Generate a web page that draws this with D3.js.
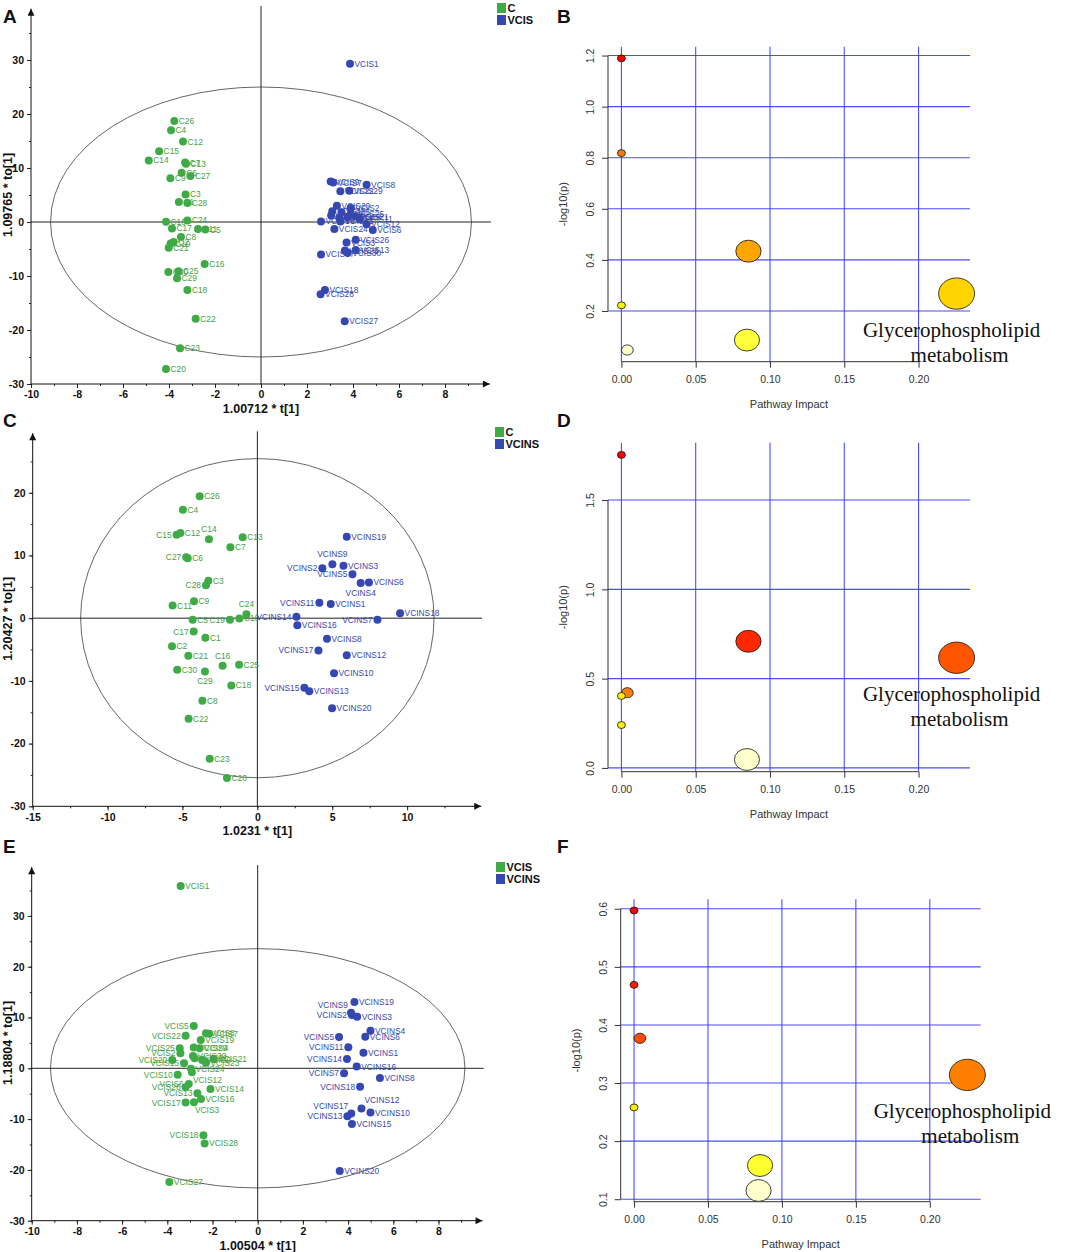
<!DOCTYPE html>
<html lang="en">
<head>
<meta charset="utf-8">
<script src="https://d3js.org/d3.v7.min.js"></script>
<title>OPLS-DA scores and pathway impact</title>
<style>
  body { margin: 0; background: #fff; }
  svg { display: block; }
</style>
</head>
<body>
<script>

// ---------- data ----------
// score plots: [sample, t[1], to[1], label side]
var scoresA_C = [
  ["C26",-3.77,18.7],["C4",-3.91,17.0],["C12",-3.39,14.9],["C15",-4.43,13.1],["C14",-4.88,11.4],
  ["C7",-3.30,11.0],["C13",-3.26,10.8],["C6",-3.45,9.1],["C27",-3.07,8.5],["C9",-3.94,8.1],
  ["C3",-3.28,5.1],["C1",-3.57,3.7],["C28",-3.20,3.5],["C10",-4.13,0.05],["C24",-3.20,0.3],
  ["C17",-3.87,-1.2],["C11",-2.74,-1.3],["C5",-2.42,-1.4],["C8",-3.48,-2.8],["C2",-3.80,-3.7],
  ["C19",-3.93,-4.0],["C21",-4.01,-4.75],["C16",-2.45,-7.8],["C30",-4.03,-9.25],["C25",-3.59,-9.1],
  ["C29",-3.65,-10.4],["C18",-3.20,-12.6],["C22",-2.84,-17.9],["C23",-3.52,-23.4],["C20",-4.13,-27.2]
];
var scoresA_VCIS = [
  ["VCIS1",3.87,29.3],["VCIS9",3.03,7.5],["VCIS7",3.14,7.3],["VCIS8",4.59,6.9],["VCIS22",3.45,5.7],
  ["VCIS29",3.84,5.8],["VCIS20",3.30,3.0],["VCIS2",3.90,2.6],["VCIS4",3.10,2.0],["VCIS5",3.50,1.8],
  ["VCIS25",3.90,1.5],["VCIS10",3.05,1.2],["VCIS14",3.40,0.8],["VCIS19",3.75,0.9],["VCIS21",4.10,1.0],
  ["VCIS11",4.30,0.5],["VCIS16",2.61,0.1],["VCIS15",3.45,0.1],["VCIS12",4.59,-0.4],["VCIS24",3.19,-1.3],
  ["VCIS6",4.86,-1.5],["VCIS26",4.12,-3.3],["VCIS3",3.72,-3.8],["VCIS13",4.12,-5.2],["VCIS23",3.65,-5.3],
  ["VCIS30",3.77,-5.7],["VCIS17",2.61,-6.0],["VCIS18",2.78,-12.6],["VCIS28",2.59,-13.4],["VCIS27",3.64,-18.4]
];

var scoresC_C = [
  ["C26",-3.85,19.45,"r"],["C4",-4.97,17.3,"r"],["C15",-5.39,13.3,"l"],["C12",-5.14,13.6,"r"],
  ["C14",-3.23,12.6,"t"],["C13",-0.98,12.9,"r"],["C7",-1.80,11.3,"r"],["C27",-4.75,9.7,"l"],
  ["C6",-4.65,9.55,"r"],["C3",-3.27,5.95,"r"],["C28",-3.43,5.26,"l"],["C9",-4.23,2.71,"r"],
  ["C11",-5.66,2.02,"r"],["C24",-0.73,0.64,"t"],["C5",-4.32,-0.27,"r"],["C19",-1.83,-0.27,"l"],
  ["C10",-1.20,-0.05,"r"],["C17",-4.25,-2.13,"l"],["C1",-3.47,-3.13,"r"],["C2",-5.70,-4.46,"r"],
  ["C21",-4.61,-6.0,"r"],["C16",-2.32,-7.6,"t"],["C25",-1.22,-7.44,"r"],["C30",-5.35,-8.24,"r"],
  ["C29",-3.50,-8.5,"b"],["C18",-1.74,-10.73,"r"],["C8",-3.67,-13.18,"r"],["C22",-4.59,-16.05,"r"],
  ["C23",-3.18,-22.4,"r"],["C20",-2.03,-25.5,"r"]
];
var scoresC_VCINS = [
  ["VCINS19",5.97,12.97,"r"],["VCINS9",5.01,8.61,"t"],["VCINS2",4.34,7.97,"l"],["VCINS3",5.75,8.34,"r"],
  ["VCINS5",6.35,7.0,"l"],["VCINS4",6.90,5.6,"b"],["VCINS6",7.45,5.7,"r"],["VCINS11",4.14,2.44,"l"],
  ["VCINS1",4.90,2.28,"r"],["VCINS18",9.53,0.8,"r"],["VCINS14",2.61,0.21,"l"],["VCINS7",8.02,-0.27,"l"],
  ["VCINS16",2.67,-1.12,"r"],["VCINS8",4.65,-3.29,"r"],["VCINS17",4.08,-5.15,"l"],["VCINS12",5.97,-5.9,"r"],
  ["VCINS10",5.12,-8.77,"r"],["VCINS15",3.14,-11.1,"l"],["VCINS13",3.47,-11.64,"r"],["VCINS20",4.99,-14.35,"r"]
];

var scoresE_VCIS = [
  ["VCIS1",-3.41,35.9,"r"],["VCIS5",-2.83,8.33,"l"],["VCIS22",-3.19,6.43,"l"],["VCIS8",-2.29,6.9,"r"],
  ["VCIS7",-2.15,6.8,"r"],["VCIS19",-2.52,5.57,"r"],["VCIS25",-3.45,3.93,"l"],["VCIS2",-3.42,2.95,"l"],
  ["VCIS29",-2.83,4.07,"r"],["VCIS4",-2.57,3.93,"r"],["VCIS30",-2.86,2.43,"r"],["VCIS11",-2.79,1.97,"r"],
  ["VCIS9",-2.46,1.64,"r"],["VCIS21",-1.95,1.84,"r"],["VCIS23",-2.29,1.11,"r"],["VCIS20",-3.78,1.64,"l"],
  ["VCIS15",-3.26,0.98,"l"],["VCIS24",-2.95,-0.07,"r"],["VCIS12",-2.91,-0.79,"br"],["VCIS10",-3.54,-1.25,"l"],
  ["VCIS6",-3.05,-3.08,"l"],["VCIS26",-3.19,-3.74,"l"],["VCIS14",-2.09,-4.07,"r"],["VCIS13",-2.67,-4.92,"l"],
  ["VCIS16",-2.51,-6.03,"r"],["VCIS17",-3.19,-6.75,"l"],["VCIS3",-2.82,-6.69,"br"],["VCIS18",-2.40,-13.2,"l"],
  ["VCIS28",-2.35,-14.8,"r"],["VCIS27",-3.91,-22.4,"r"]
];
var scoresE_VCINS = [
  ["VCINS19",4.28,13.05,"r"],["VCINS9",4.13,10.95,"tl"],["VCINS2",4.17,10.5,"l"],["VCINS3",4.40,10.16,"r"],
  ["VCINS4",4.99,7.41,"r"],["VCINS6",4.76,6.23,"r"],["VCINS5",3.60,6.16,"l"],["VCINS11",4.01,4.13,"l"],
  ["VCINS1",4.68,3.08,"r"],["VCINS14",3.95,1.84,"l"],["VCINS16",4.38,0.33,"r"],["VCINS7",3.82,-0.98,"l"],
  ["VCINS8",5.41,-1.9,"r"],["VCINS18",4.53,-3.61,"l"],["VCINS12",4.59,-7.93,"tr"],["VCINS17",4.14,-8.92,"tl"],
  ["VCINS10",4.99,-8.72,"r"],["VCINS13",3.97,-9.44,"l"],["VCINS15",4.17,-10.95,"r"],["VCINS20",3.63,-20.2,"r"]
];

// Hotelling T2 ellipse half-axes (t[1], to[1])
var ellipseA = [9.15, 25.0];
var ellipseC = [11.8, 25.45];
var ellipseE = [9.17, 23.55];

// pathway analysis: impact and -log10(p)
var impactB = [0, 0, 0.0855, 0.2256, 0, 0.0845, 0.004];
var logpB   = [1.189, 0.818, 0.434, 0.268, 0.222, 0.086, 0.047];
var impactD = [0, 0.0855, 0.2256, 0.004, 0, 0, 0.0845];
var logpD   = [1.753, 0.709, 0.617, 0.421, 0.403, 0.240, 0.047];
var impactF = [0, 0, 0.004, 0.2254, 0, 0.0852, 0.0842];
var logpF   = [0.597, 0.469, 0.377, 0.314, 0.258, 0.158, 0.115];

var impactTicks = [0, 0.05, 0.10, 0.15, 0.20];
var logpTicksB = [0.2, 0.4, 0.6, 0.8, 1.0, 1.2];
var logpTicksD = [0.0, 0.5, 1.0, 1.5];
var logpTicksF = [0.1, 0.2, 0.3, 0.4, 0.5, 0.6];

// colours by p-value rank (smallest p first)
var heatB = ["#ff0000","#f47a08","#ffa500","#ffd400","#fbf200","#ffff3c","#ffffcc"];
var heatD = ["#ff0000","#ff2800","#ff5500","#ff7c10","#ffef00","#ffee00","#ffffcc"];
var heatF = ["#ff0000","#ff1a00","#ff4c00","#ff7f00","#f5ee00","#ffff30","#ffffcc"];

var topLabel = "Glycerophospholipid";
var topLabel2 = "metabolism";

// ---------- drawing ----------
var sans = "'Liberation Sans', Arial, sans-serif";
var green = "#3fab47", blue = "#3447b2";
var greenText = "#47a045", blueText = "#3848ac";

var svg = d3.select("body").append("svg")
  .attr("width", 1065)
  .attr("height", 1252);

svg.append("rect").attr("width", 1065).attr("height", 1252).attr("fill", "#fff");

var defs = svg.append("defs");
defs.append("marker")
  .attr("id", "arrow")
  .attr("viewBox", "0 0 10 10")
  .attr("refX", 10).attr("refY", 5)
  .attr("markerWidth", 9).attr("markerHeight", 7)
  .attr("markerUnits", "userSpaceOnUse")
  .attr("orient", "auto")
  .append("path").attr("d", "M0,0L10,5L0,10Z").attr("fill", "#111");

// plain hyphen minus, as in the original software
var intFmt = function(d){ return String(d); };

function labelPos(side){
  switch(side){
    case "l":  return {dx: -5, dy: 3, anchor: "end"};
    case "t":  return {dx: 0, dy: -7, anchor: "middle"};
    case "b":  return {dx: 0, dy: 13, anchor: "middle"};
    case "tl": return {dx: -3, dy: -5, anchor: "end"};
    case "tr": return {dx: 3, dy: -6, anchor: "start"};
    case "br": return {dx: 1, dy: 11, anchor: "start"};
    default:   return {dx: 4.5, dy: 3, anchor: "start"};
  }
}

function drawScores(o){
  var g = svg.append("g");
  var x = d3.scaleLinear().domain(o.xDomain).range(o.xRange);
  var y = d3.scaleLinear().domain(o.yDomain).range(o.yRange);
  var left = o.xRange[0], bottom = o.yRange[0];

  g.append("ellipse")
    .attr("cx", x(0)).attr("cy", y(0))
    .attr("rx", x(o.ellipse[0]) - x(0))
    .attr("ry", y(0) - y(o.ellipse[1]))
    .attr("fill", "none").attr("stroke", "#555").attr("stroke-width", 0.9);

  // crosshair through origin
  g.append("line").attr("x1", x(0)).attr("x2", x(0)).attr("y1", bottom).attr("y2", o.yRange[1])
    .attr("stroke", "#222").attr("stroke-width", 1);
  g.append("line").attr("x1", left).attr("x2", o.xRange[1]).attr("y1", y(0)).attr("y2", y(0))
    .attr("stroke", "#222").attr("stroke-width", 1);

  // axes (ticks from d3, own lines with arrows)
  var xMinor = d3.range(o.xDomain[0], o.xTicks[o.xTicks.length - 1] + o.xStep, o.xStep / 2);
  var yMinor = d3.range(o.yDomain[0], o.yTicks[o.yTicks.length - 1] + o.yStep, o.yStep / 2);

  var ax = g.append("g").attr("transform", "translate(0," + bottom + ")")
    .call(d3.axisBottom(x).tickValues(xMinor).tickFormat("").tickSize(2).tickSizeOuter(0));
  ax.select(".domain").remove();
  var ax2 = g.append("g").attr("transform", "translate(0," + bottom + ")")
    .call(d3.axisBottom(x).tickValues(o.xTicks).tickFormat(intFmt).tickSize(4).tickSizeOuter(0).tickPadding(3));
  ax2.select(".domain").remove();

  var ay = g.append("g").attr("transform", "translate(" + left + ",0)")
    .call(d3.axisLeft(y).tickValues(yMinor).tickFormat("").tickSize(2).tickSizeOuter(0));
  ay.select(".domain").remove();
  var ay2 = g.append("g").attr("transform", "translate(" + left + ",0)")
    .call(d3.axisLeft(y).tickValues(o.yTicks).tickFormat(intFmt).tickSize(4).tickSizeOuter(0).tickPadding(3));
  ay2.select(".domain").remove();

  g.selectAll(".tick line").attr("stroke", "#222");
  [ax2, ay2].forEach(function(a){
    a.selectAll("text").attr("font-family", sans).attr("font-size", 10.5)
      .attr("font-weight", "bold").attr("fill", "#111");
  });

  g.append("line").attr("x1", left).attr("x2", left).attr("y1", bottom).attr("y2", y(o.yArrow))
    .attr("stroke", "#111").attr("stroke-width", 1).attr("marker-end", "url(#arrow)");
  g.append("line").attr("x1", left).attr("x2", x(o.xArrow)).attr("y1", bottom).attr("y2", bottom)
    .attr("stroke", "#111").attr("stroke-width", 1).attr("marker-end", "url(#arrow)");

  // axis titles
  g.append("text").attr("x", x(0)).attr("y", bottom + 29)
    .attr("text-anchor", "middle").attr("font-family", sans).attr("font-size", 12.5)
    .attr("font-weight", "bold").attr("fill", "#111").text(o.xTitle);
  g.append("text")
    .attr("transform", "translate(12," + ((o.yRange[0] + o.yRange[1]) / 2) + ") rotate(-90)")
    .attr("text-anchor", "middle").attr("font-family", sans).attr("font-size", 12.5)
    .attr("font-weight", "bold").attr("fill", "#111").text(o.yTitle);

  // points and labels
  o.groups.forEach(function(grp){
    var pts = g.append("g");
    pts.selectAll("circle").data(grp.data).enter().append("circle")
      .attr("cx", function(d){ return x(d[1]); })
      .attr("cy", function(d){ return y(d[2]); })
      .attr("r", 4)
      .attr("fill", grp.color);
    pts.selectAll("text").data(grp.data).enter().append("text")
      .each(function(d){
        var p = labelPos(d[3]);
        d3.select(this)
          .attr("x", x(d[1]) + p.dx).attr("y", y(d[2]) + p.dy)
          .attr("text-anchor", p.anchor);
      })
      .attr("font-family", sans).attr("font-size", 8.4)
      .attr("fill", grp.textColor)
      .text(function(d){ return d[0]; });
  });

  // legend
  var lg = g.append("g").attr("transform", "translate(" + o.legend[0] + "," + o.legend[1] + ")");
  o.groups.forEach(function(grp, i){
    lg.append("rect").attr("x", 0).attr("y", i * 12).attr("width", 9).attr("height", 10)
      .attr("fill", grp.color);
    lg.append("text").attr("x", 10.5).attr("y", i * 12 + 9)
      .attr("font-family", sans).attr("font-size", 11).attr("font-weight", "bold")
      .attr("fill", "#111").text(grp.name);
  });
}

function padded(ext){
  var p = (ext[1] - ext[0]) * 0.04;
  return [ext[0] - p, ext[1] + p];
}

function drawPathways(o){
  var g = svg.append("g");
  var x = d3.scaleLinear().domain(padded(d3.extent(o.impact))).range(o.xRange);
  var y = d3.scaleLinear().domain(padded(d3.extent(o.logp))).range(o.yRange);
  var r = d3.scaleSqrt().domain([0, d3.max(o.impact)]).range([4, 18]);
  var order = d3.range(o.logp.length).sort(function(a, b){ return o.logp[b] - o.logp[a]; });
  var colour = d3.scaleOrdinal().domain(order).range(o.heat);

  var left = o.xRange[0], right = o.xRange[1], bottom = o.yRange[0], top = o.yRange[1];
  var grid = "#3a3aff";

  g.selectAll("line.v").data(impactTicks).enter().append("line")
    .attr("x1", function(d){ return x(d); }).attr("x2", function(d){ return x(d); })
    .attr("y1", top).attr("y2", bottom)
    .attr("stroke", grid).attr("stroke-width", 1.1).attr("opacity", 0.9);
  g.selectAll("line.h").data(o.yTicks).enter().append("line")
    .attr("x1", left).attr("x2", right)
    .attr("y1", function(d){ return y(d); }).attr("y2", function(d){ return y(d); })
    .attr("stroke", grid).attr("stroke-width", 1.1).attr("opacity", 0.9);

  // R-style axes: line from first to last tick
  var ax = g.append("g").attr("transform", "translate(0," + bottom + ")")
    .call(d3.axisBottom(x).tickValues(impactTicks).tickFormat(d3.format(".2f"))
      .tickSize(6).tickSizeOuter(0).tickPadding(8));
  ax.select(".domain").remove();
  g.append("line").attr("x1", x(impactTicks[0])).attr("x2", x(impactTicks[impactTicks.length - 1]))
    .attr("y1", bottom).attr("y2", bottom).attr("stroke", "#333").attr("stroke-width", 1);

  var ay = g.append("g").attr("transform", "translate(" + left + ",0)")
    .call(d3.axisLeft(y).tickValues(o.yTicks).tickFormat(d3.format(".1f"))
      .tickSize(6).tickSizeOuter(0));
  ay.select(".domain").remove();
  ay.selectAll("text")
    .attr("x", null).attr("dy", null)
    .attr("transform", "translate(-14,0) rotate(-90)")
    .attr("text-anchor", "middle");
  g.append("line").attr("x1", left).attr("x2", left)
    .attr("y1", y(o.yTicks[0])).attr("y2", y(o.yTicks[o.yTicks.length - 1]))
    .attr("stroke", "#333").attr("stroke-width", 1);

  g.selectAll(".tick line").attr("stroke", "#333");
  g.selectAll(".tick text").attr("font-family", sans).attr("font-size", 10.5).attr("fill", "#333");

  g.append("text").attr("x", (left + right) / 2).attr("y", bottom + 46)
    .attr("text-anchor", "middle").attr("font-family", sans).attr("font-size", 11)
    .attr("fill", "#333").text("Pathway Impact");
  g.append("text")
    .attr("transform", "translate(" + (left - 41) + "," + ((top + bottom) / 2) + ") rotate(-90)")
    .attr("text-anchor", "middle").attr("font-family", sans).attr("font-size", 11)
    .attr("fill", "#333").text("-log10(p)");

  var idx = d3.range(o.logp.length);
  g.selectAll("ellipse").data(idx).enter().append("ellipse")
    .attr("cx", function(i){ return x(o.impact[i]); })
    .attr("cy", function(i){ return y(o.logp[i]); })
    .attr("rx", function(i){ return r(o.impact[i]); })
    .attr("ry", function(i){ return r(o.impact[i]) * 0.87; })
    .attr("fill", function(i){ return colour(i); })
    .attr("stroke", "#111").attr("stroke-width", 0.8);

  // label under the most impacted pathway
  var top1 = d3.maxIndex(o.impact);
  var lx = x(o.impact[top1]), ly = y(o.logp[top1]);
  g.append("text").attr("x", lx - 5).attr("y", ly + 43)
    .attr("text-anchor", "middle").attr("font-family", "'Liberation Serif', 'Times New Roman', serif")
    .attr("font-size", 21).attr("fill", "#111").text(topLabel);
  g.append("text").attr("x", lx + 3).attr("y", ly + 68)
    .attr("text-anchor", "middle").attr("font-family", "'Liberation Serif', 'Times New Roman', serif")
    .attr("font-size", 21).attr("fill", "#111").text(topLabel2);
}

drawScores({
  xDomain: [-10, 10], xRange: [31, 491], yDomain: [-30, 40], yRange: [384, 6],
  xTicks: d3.range(-10, 9, 2), xStep: 2, yTicks: d3.range(-30, 31, 10), yStep: 10,
  xArrow: 9.95, yArrow: 39.5, ellipse: ellipseA,
  xTitle: "1.00712 * t[1]", yTitle: "1.09765 * to[1]", legend: [497, 3],
  groups: [
    {name: "C", data: scoresA_C, color: green, textColor: greenText},
    {name: "VCIS", data: scoresA_VCIS, color: blue, textColor: blueText}
  ]
});

drawScores({
  xDomain: [-15, 15], xRange: [32.7, 482], yDomain: [-30, 29.8], yRange: [806.3, 431.3],
  xTicks: d3.range(-15, 11, 5), xStep: 5, yTicks: d3.range(-30, 21, 10), yStep: 10,
  xArrow: 14.95, yArrow: 29.5, ellipse: ellipseC,
  xTitle: "1.0231 * t[1]", yTitle: "1.20427 * to[1]", legend: [495, 427],
  groups: [
    {name: "C", data: scoresC_C, color: green, textColor: greenText},
    {name: "VCINS", data: scoresC_VCINS, color: blue, textColor: blueText}
  ]
});

drawScores({
  xDomain: [-10, 10], xRange: [31.7, 483.7], yDomain: [-30, 40], yRange: [1220.7, 865.1],
  xTicks: d3.range(-10, 9, 2), xStep: 2, yTicks: d3.range(-30, 31, 10), yStep: 10,
  xArrow: 9.95, yArrow: 39.6, ellipse: ellipseE,
  xTitle: "1.00504 * t[1]", yTitle: "1.18804 * to[1]", legend: [496, 862],
  groups: [
    {name: "VCIS", data: scoresE_VCIS, color: green, textColor: greenText},
    {name: "VCINS", data: scoresE_VCINS, color: blue, textColor: blueText}
  ]
});

drawPathways({impact: impactB, logp: logpB, yTicks: logpTicksB, heat: heatB,
  xRange: [608, 970], yRange: [361.7, 46.7]});
drawPathways({impact: impactD, logp: logpD, yTicks: logpTicksD, heat: heatD,
  xRange: [608, 970], yRange: [771.7, 442.7]});
drawPathways({impact: impactF, logp: logpF, yTicks: logpTicksF, heat: heatF,
  xRange: [620.7, 980.7], yRange: [1201.7, 899.3]});

// panel letters
var letters = [["A", 3, 23], ["B", 557, 23], ["C", 3, 427], ["D", 557, 427], ["E", 3, 853], ["F", 557, 853]];
svg.selectAll("text.letter").data(letters).enter().append("text")
  .attr("class", "letter")
  .attr("x", function(d){ return d[1]; }).attr("y", function(d){ return d[2]; })
  .attr("font-family", sans).attr("font-size", 19).attr("font-weight", "bold").attr("fill", "#111")
  .text(function(d){ return d[0]; });

</script>
</body>
</html>
